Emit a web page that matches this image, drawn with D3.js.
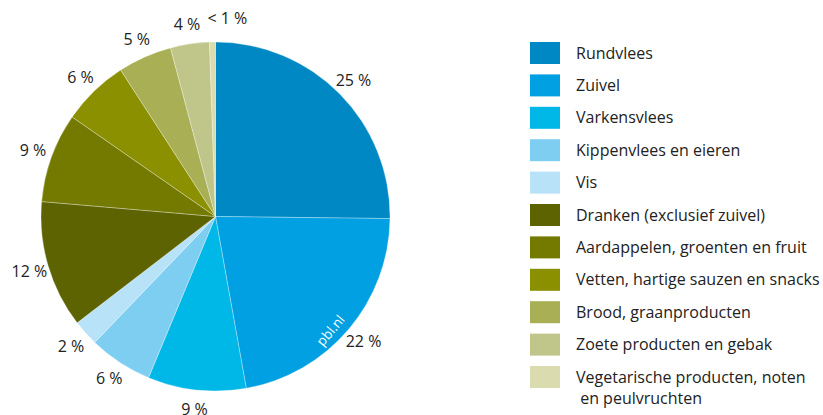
<!DOCTYPE html>
<html><head><meta charset="utf-8">
<script src="https://cdn.jsdelivr.net/npm/d3@7"></script>
<style>body{margin:0;background:#fff}svg{display:block;font-family:"Open Sans",sans-serif}</style>
</head><body><svg id="c" width="823" height="415"></svg>
<script>
const categories = ["Rundvlees","Zuivel","Varkensvlees","Kippenvlees en eieren","Vis","Dranken (exclusief zuivel)","Aardappelen, groenten en fruit","Vetten, hartige sauzen en snacks","Brood, graanproducten","Zoete producten en gebak","Vegetarische producten, noten\n en peulvruchten"];
const values = [25.2,22.0,9.1,5.9,2.4,11.8,8.3,6.2,5.0,3.6,0.55];
const labels = ["25 %","22 %","9 %","6 %","2 %","12 %","9 %","6 %","5 %","4 %","< 1 %"];
const colors = ["#0088c4","#00a0e2","#00b8e8","#7ecef2","#b7e2f7","#5c6300","#747a00","#8a9000","#a8af55","#c0c68a","#dadcb0"];

const svg = d3.select("#c");
const cx = 215.5, cy = 216.5, R = 174.5;
const pie = d3.pie().sort(null).value(d=>d)(values);
const arc = d3.arc().innerRadius(0).outerRadius(R);
const g = svg.append("g").attr("transform",`translate(${cx},${cy})`);
g.selectAll("path").data(pie).join("path")
  .attr("d",arc).attr("fill",(d,i)=>colors[i])
  .attr("stroke","#fff").attr("stroke-width",0.5).attr("stroke-opacity",0.6);
const la = d3.arc().innerRadius(194).outerRadius(194);
const tiny = d => (d.endAngle - d.startAngle) < 0.05;
g.selectAll("text.l").data(pie).join("text").attr("class","l")
  .attr("transform",d=>{
    if (tiny(d)) { const a = d.startAngle; return `translate(${R*Math.sin(a)-2},${-198})`; }
    return `translate(${la.centroid(d)})`;
  })
  .attr("text-anchor",d=>tiny(d)?"start":"middle").attr("dy","0.35em")
  .attr("font-size",16).attr("fill","#222")
  .text((d,i)=>labels[i]);
g.append("text").attr("transform","translate(115,114) rotate(-50)")
  .attr("text-anchor","middle").attr("dy","0.35em").attr("font-size",13.5).attr("fill","#fff").text("pbl.nl");

const y = d3.scaleBand().domain(d3.range(categories.length)).range([42, 42+32.4*categories.length]);
const lg = svg.append("g");
const row = lg.selectAll("g").data(categories).join("g").attr("transform",(d,i)=>`translate(530,${y(i)})`);
row.append("rect").attr("width",30).attr("height",22).attr("fill",(d,i)=>colors[i]);
row.append("text").attr("x",46).attr("y",11).attr("font-size",16).attr("fill","#222")
  .selectAll("tspan").data(d=>d.split("\n")).join("tspan")
  .attr("x",46).attr("dy",(d,i)=>i===0?"0.35em":"1.35em").style("white-space","pre").text(d=>d);
</script></body></html>
